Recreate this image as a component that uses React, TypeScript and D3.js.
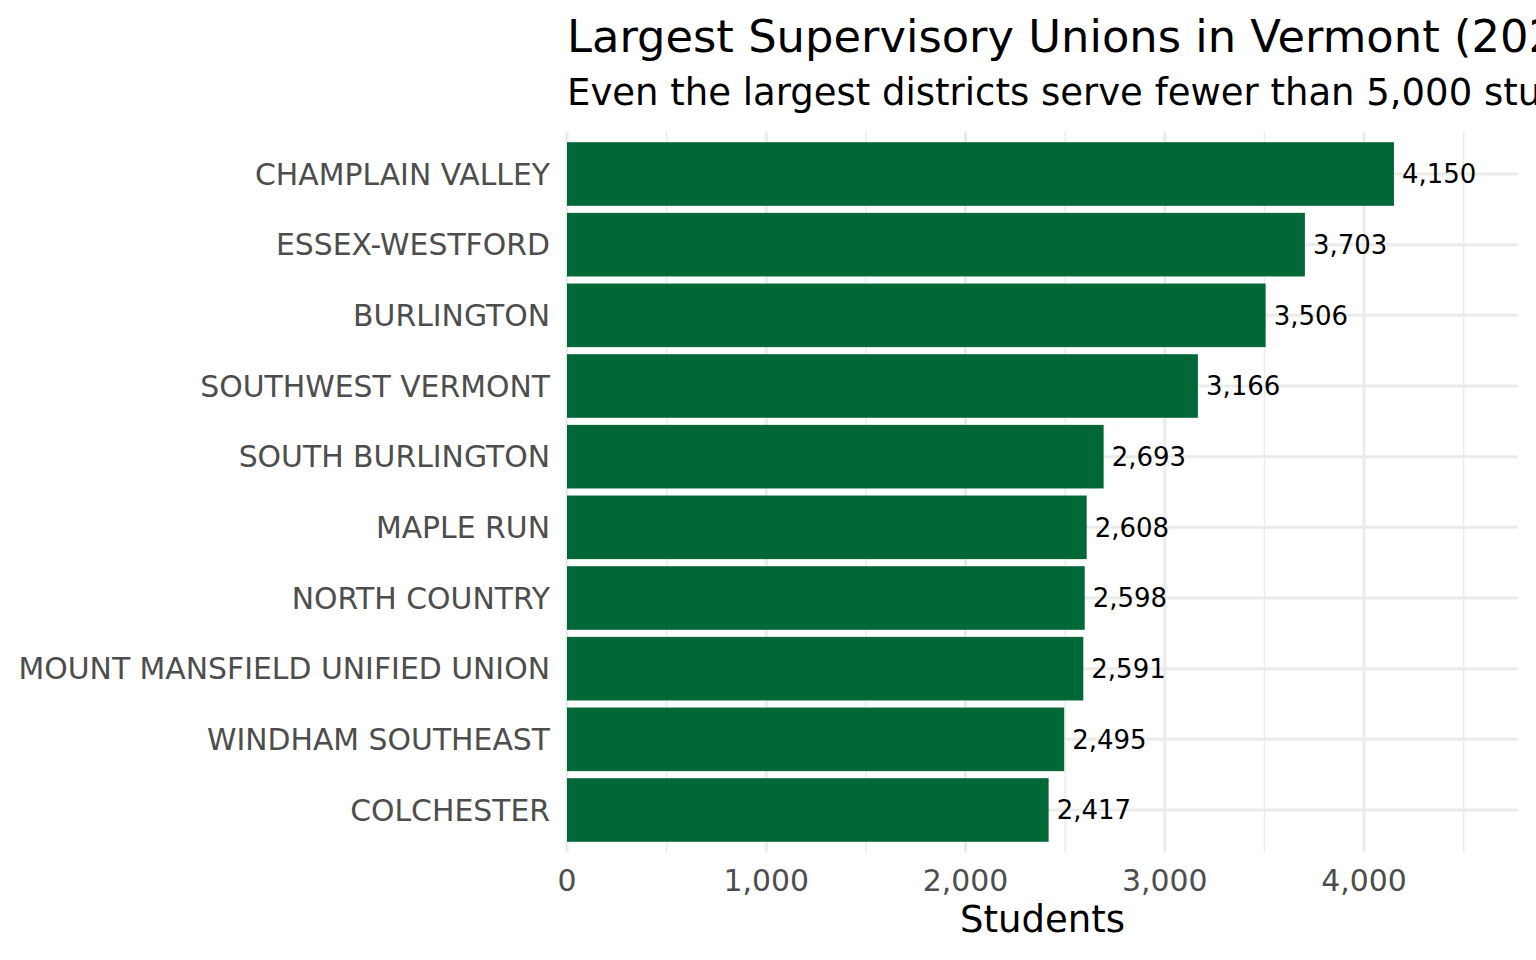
import { useEffect, useRef } from "react";
import * as d3 from "d3";

const districts = [
  "CHAMPLAIN VALLEY",
  "ESSEX-WESTFORD",
  "BURLINGTON",
  "SOUTHWEST VERMONT",
  "SOUTH BURLINGTON",
  "MAPLE RUN",
  "NORTH COUNTRY",
  "MOUNT MANSFIELD UNIFIED UNION",
  "WINDHAM SOUTHEAST",
  "COLCHESTER",
];
const students = [4150, 3703, 3506, 3166, 2693, 2608, 2598, 2591, 2495, 2417];
const xTicks = [0, 1000, 2000, 3000, 4000];
const xMinorTicks = [500, 1500, 2500, 3500, 4500];

const WIDTH = 1536;
const HEIGHT = 960;
const FONT = "'DejaVu Sans', Verdana, sans-serif";
const BAR = "#006837";

export default function App() {
  const svgRef = useRef<SVGSVGElement>(null);

  useEffect(() => {
    const svg = svgRef.current;
    if (!svg) return;
    const sel = d3.select(svg);
    sel.selectAll("*").remove();

    const panel = { left: 567, right: 1518, top: 131.6, bottom: 852.4 };

    // continuous axis expanded 15% at the top end, none at zero
    const x = d3
      .scaleLinear()
      .domain([0, d3.max(students)! * 1.15])
      .range([panel.left, panel.right]);

    // discrete axis: ggplot adds 0.6 of a step each side
    const step = (panel.bottom - panel.top) / (districts.length - 1 + 1.2);
    const y = d3
      .scalePoint<string>()
      .domain(districts)
      .range([panel.top + 0.6 * step, panel.bottom - 0.6 * step]);
    const barH = step * 0.9;

    const g = sel.append("g");

    // minor grid
    g.append("g")
      .selectAll("line")
      .data(xMinorTicks)
      .enter()
      .append("line")
      .attr("x1", (d) => x(d))
      .attr("x2", (d) => x(d))
      .attr("y1", panel.top)
      .attr("y2", panel.bottom)
      .attr("stroke", "#EBEBEB")
      .attr("stroke-width", 1.5);

    // major grid
    g.append("g")
      .selectAll("line")
      .data(xTicks)
      .enter()
      .append("line")
      .attr("x1", (d) => x(d))
      .attr("x2", (d) => x(d))
      .attr("y1", panel.top)
      .attr("y2", panel.bottom)
      .attr("stroke", "#EBEBEB")
      .attr("stroke-width", 3);

    g.append("g")
      .selectAll("line")
      .data(districts)
      .enter()
      .append("line")
      .attr("x1", panel.left)
      .attr("x2", panel.right)
      .attr("y1", (d) => y(d)!)
      .attr("y2", (d) => y(d)!)
      .attr("stroke", "#EBEBEB")
      .attr("stroke-width", 3);

    // bars
    g.append("g")
      .selectAll("rect")
      .data(districts)
      .enter()
      .append("rect")
      .attr("x", x(0))
      .attr("y", (d) => y(d)! - barH / 2)
      .attr("width", (_d, i) => x(students[i]) - x(0))
      .attr("height", barH)
      .attr("fill", BAR);

    // value labels
    g.append("g")
      .selectAll("text")
      .data(districts)
      .enter()
      .append("text")
      .attr("x", (_d, i) => x(students[i]) + 8)
      .attr("y", (d) => y(d)!)
      .attr("dy", "0.36em")
      .attr("font-size", 26)
      .attr("fill", "#000")
      .text((_d, i) => d3.format(",")(students[i]));

    // y axis labels
    g.append("g")
      .selectAll("text")
      .data(districts)
      .enter()
      .append("text")
      .attr("x", panel.left - 17)
      .attr("y", (d) => y(d)!)
      .attr("dy", "0.36em")
      .attr("text-anchor", "end")
      .attr("font-size", 29.85)
      .attr("fill", "#4D4D4D")
      .text((d) => d);

    // x axis labels
    g.append("g")
      .selectAll("text")
      .data(xTicks)
      .enter()
      .append("text")
      .attr("x", (d) => x(d))
      .attr("y", 891)
      .attr("text-anchor", "middle")
      .attr("font-size", 29.85)
      .attr("fill", "#4D4D4D")
      .text((d) => d3.format(",")(d));

    // axis title
    g.append("text")
      .attr("x", (panel.left + panel.right) / 2)
      .attr("y", 932)
      .attr("text-anchor", "middle")
      .attr("font-size", 37)
      .attr("fill", "#000")
      .text("Students");

    // title + subtitle
    g.append("text")
      .attr("x", panel.left)
      .attr("y", 52)
      .attr("font-size", 44.8)
      .attr("fill", "#000")
      .text("Largest Supervisory Unions in Vermont (2025)");

    g.append("text")
      .attr("x", panel.left)
      .attr("y", 105)
      .attr("font-size", 37)
      .attr("fill", "#000")
      .text("Even the largest districts serve fewer than 5,000 students");
  }, []);

  return (
    <svg
      ref={svgRef}
      width={WIDTH}
      height={HEIGHT}
      fontFamily={FONT}
      style={{ position: "absolute", left: 0, top: 0, background: "#fff", overflow: "hidden" }}
    />
  );
}
